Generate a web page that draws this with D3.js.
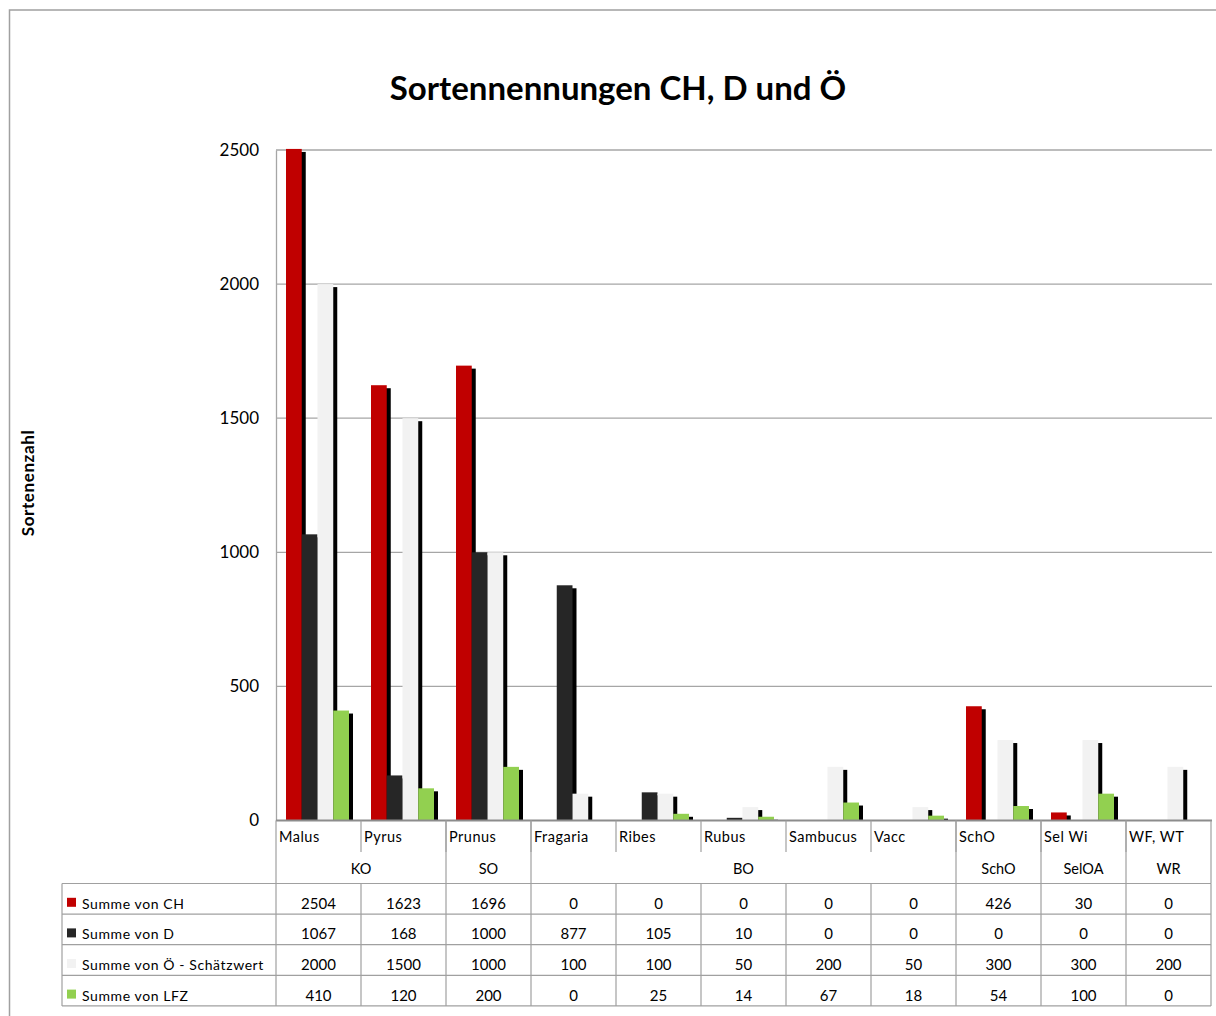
<!DOCTYPE html>
<html>
<head>
<meta charset="UTF-8">
<script src="https://d3js.org/d3.v7.min.js"></script>
<style>
  body { margin: 0; background: #fff; }
  text { font-family: Lato, "Noto Sans", sans-serif; fill: #000; }
</style>
</head>
<body>
<script>
// data
var categories = ["Malus", "Pyrus", "Prunus", "Fragaria", "Ribes", "Rubus", "Sambucus", "Vacc", "SchO", "Sel Wi", "WF, WT"];
var groupNames = ["KO", "SO", "BO", "SchO", "SelOA", "WR"];
var groupSizes = [2, 1, 5, 1, 1, 1];
var seriesNames = ["Summe von CH", "Summe von D", "Summe von Ö - Schätzwert", "Summe von LFZ"];
var seriesColors = ["#c00000", "#262626", "#f2f2f2", "#92d050"];
var valuesCH = [2504, 1623, 1696, 0, 0, 0, 0, 0, 426, 30, 0];
var valuesD = [1067, 168, 1000, 877, 105, 10, 0, 0, 0, 0, 0];
var valuesOe = [2000, 1500, 1000, 100, 100, 50, 200, 50, 300, 300, 200];
var valuesLFZ = [410, 120, 200, 0, 25, 14, 67, 18, 54, 100, 0];
var yTicks = [0, 500, 1000, 1500, 2000, 2500];

var series = [valuesCH, valuesD, valuesOe, valuesLFZ];

var w = 1216, h = 1016;
var plotLeft = 276, plotRight = 1211, plotTop = 150, base = 820.5;
var gridColor = "#a6a6a6";

var svg = d3.select("body").append("svg").attr("width", w).attr("height", h);

// chart frame
svg.append("rect").attr("x", 9.5).attr("y", 10).attr("width", 1220).attr("height", 1020)
  .attr("fill", "none").attr("stroke", "#a0a0a0").attr("stroke-width", 1.5);

var x = d3.scaleBand().domain(categories).range([plotLeft, plotRight]).paddingInner(0).paddingOuter(0);
var xs = d3.scaleBand().domain(d3.range(series.length)).range([10, 73]);
var y = d3.scaleLinear().domain([0, 2500]).range([base, plotTop]);

// title
svg.append("text").attr("x", 618).attr("y", 100).attr("text-anchor", "middle")
  .style("font-size", "33px").style("font-weight", "bold").text("Sortennennungen CH, D und Ö");

// axis title
svg.append("text").attr("transform", "translate(34,483) rotate(-90)").attr("text-anchor", "middle")
  .style("font-size", "17px").style("font-weight", "bold").style("letter-spacing", "0.6px").text("Sortenenzahl");

// grid
svg.append("g").selectAll("line").data(yTicks.filter(function(d){ return d > 0; })).enter().append("line")
  .attr("x1", plotLeft).attr("x2", plotRight + 1).attr("y1", function(d){ return y(d); }).attr("y2", function(d){ return y(d); })
  .attr("stroke", gridColor).attr("stroke-width", 1.3);

// y axis
var yAxis = d3.axisLeft(y).tickValues(yTicks).tickSize(0).tickPadding(17).tickFormat(d3.format("d"));
var gy = svg.append("g").attr("transform", "translate(" + plotLeft + ",0)").call(yAxis);
gy.select(".domain").attr("stroke", gridColor).attr("stroke-width", 1.3);
gy.selectAll("text").style("font-size", "17px").style("font-family", "Lato").attr("fill", "#000");

// bars with shadow
svg.append("clipPath").attr("id", "plot").append("rect")
  .attr("x", plotLeft).attr("y", 0).attr("width", plotRight - plotLeft + 10).attr("height", base);
var gb = svg.append("g").attr("clip-path", "url(#plot)");
series.forEach(function(vals, s) {
  var g = gb.append("g");
  vals.forEach(function(v, i) {
    if (v <= 0) return;
    var bx = x(categories[i]) + xs(s), bw = xs.bandwidth();
    g.append("rect").attr("x", bx + 4).attr("y", y(v) + 3).attr("width", bw).attr("height", base - y(v))
      .attr("fill", "#000");
    g.append("rect").attr("x", bx).attr("y", y(v)).attr("width", bw).attr("height", base - y(v))
      .attr("fill", seriesColors[s]);
  });
});

// category axis line
svg.append("line").attr("x1", plotLeft).attr("x2", plotRight + 1).attr("y1", base).attr("y2", base)
  .attr("stroke", "#8c8c8c").attr("stroke-width", 2);

// category row
var rowCat = base, rowGrp = 852, rowTab = 883.5, rowH = 30.6;
var lineColor = "#a0a0a0";
svg.append("g").selectAll("text").data(categories).enter().append("text")
  .attr("x", function(d){ return x(d) + 3; }).attr("y", 842)
  .style("font-size", "14.5px").style("letter-spacing", "0.5px").text(function(d){ return d; });

// group boundaries
var groupStart = [], acc = 0;
groupSizes.forEach(function(n){ groupStart.push(acc); acc += n; });
var boundaryIdx = groupStart.concat([categories.length]);
function bx(i){ return i < categories.length ? x(categories[i]) : plotRight; }

// short separators in category row
svg.append("g").selectAll("line").data(d3.range(1, categories.length)).enter().append("line")
  .attr("x1", function(i){ return bx(i); }).attr("x2", function(i){ return bx(i); })
  .attr("y1", rowCat).attr("y2", rowGrp).attr("stroke", lineColor).attr("stroke-width", 1.2);
// group separators
svg.append("g").selectAll("line").data(boundaryIdx).enter().append("line")
  .attr("x1", function(i){ return bx(i); }).attr("x2", function(i){ return bx(i); })
  .attr("y1", rowCat).attr("y2", rowTab).attr("stroke", lineColor).attr("stroke-width", 1.2);
svg.append("g").selectAll("text").data(groupNames).enter().append("text")
  .attr("x", function(d, k){ return (bx(groupStart[k]) + bx(groupStart[k] + groupSizes[k])) / 2; })
  .attr("y", 874).attr("text-anchor", "middle").style("font-size", "14.5px").text(function(d){ return d; });

// data table
var tableLeft = 62;
var tg = svg.append("g");
d3.range(series.length + 1).forEach(function(r) {
  tg.append("line").attr("x1", tableLeft).attr("x2", plotRight).attr("y1", rowTab + r * rowH).attr("y2", rowTab + r * rowH)
    .attr("stroke", lineColor).attr("stroke-width", 1.2);
});
[tableLeft].concat(d3.range(categories.length + 1).map(bx)).forEach(function(cx) {
  tg.append("line").attr("x1", cx).attr("x2", cx).attr("y1", rowTab).attr("y2", rowTab + series.length * rowH)
    .attr("stroke", lineColor).attr("stroke-width", 1.2);
});
series.forEach(function(vals, s) {
  var cy = rowTab + s * rowH + rowH / 2;
  tg.append("rect").attr("x", 67).attr("y", cy - 1).attr("width", 9).attr("height", 9).attr("fill", seriesColors[s]);
  tg.append("text").attr("x", 82).attr("y", cy + 10).style("font-size", "14px").style("letter-spacing", "0.6px").text(seriesNames[s]);
  vals.forEach(function(v, i) {
    tg.append("text").attr("x", x(categories[i]) + x.bandwidth() / 2).attr("y", cy + 10)
      .attr("text-anchor", "middle").style("font-size", "15px").text(v);
  });
});
</script>
</body>
</html>
